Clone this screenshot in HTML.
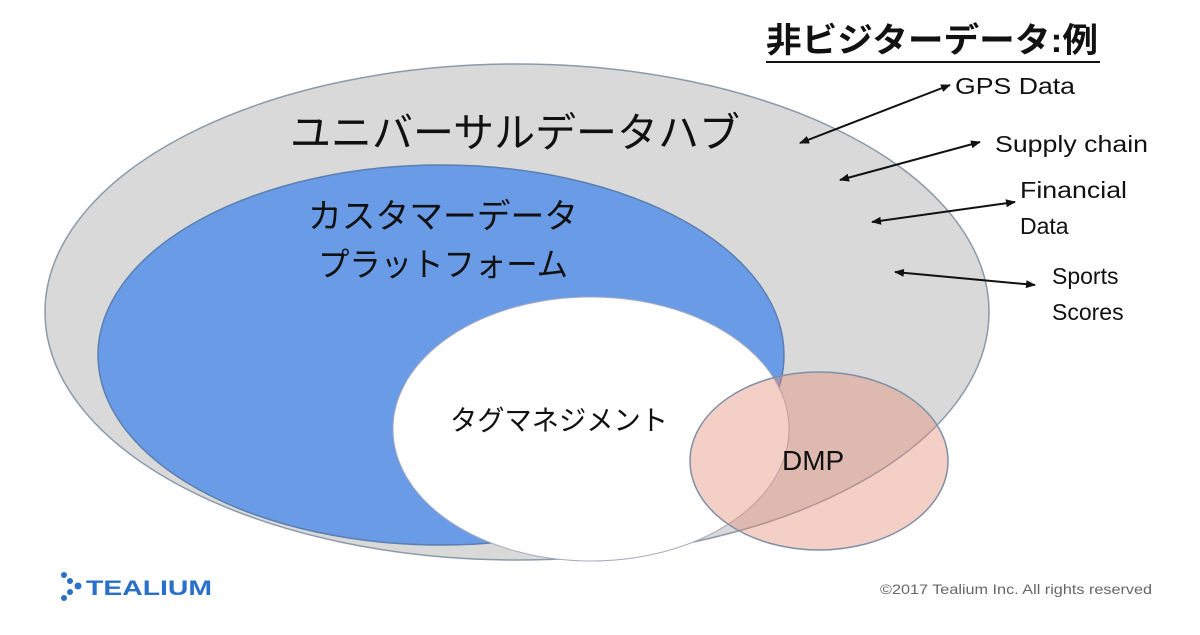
<!DOCTYPE html>
<html><head><meta charset="utf-8"><style>
body{margin:0;width:1200px;height:630px;background:#fff;overflow:hidden}
svg text{font-family:"Liberation Sans","Noto Sans CJK JP",sans-serif}
</style></head><body>
<svg width="1200" height="630" viewBox="0 0 1200 630">
<defs><marker id="a" markerWidth="10" markerHeight="8" refX="9" refY="4" orient="auto-start-reverse" markerUnits="userSpaceOnUse"><path d="M0,0 L10,4 L0,8 z" fill="#111"/></marker></defs>
<ellipse cx="517" cy="312" rx="472" ry="248" fill="#d9d9d9" stroke="#8a9aaa" stroke-width="1.5"/>
<ellipse cx="441" cy="355" rx="343" ry="190" fill="#6a9be6" stroke="#5a7fb0" stroke-width="1.5"/>
<ellipse cx="591" cy="429" rx="198" ry="132" fill="#fff" stroke="#aab" stroke-width="1"/>
<ellipse cx="819" cy="461" rx="129" ry="89" fill="rgba(228,140,120,0.42)" stroke="#7f8fa8" stroke-width="1.5"/>
<text x="290" y="147" font-size="41" fill="#111" textLength="450" lengthAdjust="spacingAndGlyphs">ユニバーサルデータハブ</text>
<text x="308" y="228" font-size="34" fill="#111" textLength="270" lengthAdjust="spacingAndGlyphs">カスタマーデータ</text>
<text x="318" y="276" font-size="33" fill="#111" textLength="250" lengthAdjust="spacingAndGlyphs">プラットフォーム</text>
<text x="450" y="430" font-size="28" fill="#111" textLength="218" lengthAdjust="spacingAndGlyphs">タグマネジメント</text>
<text x="782" y="470" font-size="28" fill="#111">DMP</text>
<text x="766" y="52" font-size="34" font-weight="bold" fill="#111" textLength="332" lengthAdjust="spacingAndGlyphs">非ビジターデータ:例</text>
<line x1="766" y1="62" x2="1100" y2="62" stroke="#111" stroke-width="2"/>
<g font-size="23" fill="#111">
<text x="955" y="94" textLength="120" lengthAdjust="spacingAndGlyphs">GPS Data</text>
<text x="995" y="152" textLength="153" lengthAdjust="spacingAndGlyphs">Supply chain</text>
<text x="1020" y="198" textLength="107" lengthAdjust="spacingAndGlyphs">Financial</text>
<text x="1020" y="234">Data</text>
<text x="1052" y="284">Sports</text>
<text x="1052" y="320">Scores</text>
</g>
<g stroke="#111" stroke-width="2" marker-start="url(#a)" marker-end="url(#a)">
<line x1="800" y1="143" x2="950" y2="85"/>
<line x1="840" y1="180" x2="980" y2="142"/>
<line x1="872" y1="222" x2="1015" y2="202"/>
<line x1="895" y1="272" x2="1035" y2="285"/>
</g>
<g fill="#2a6fc9"><circle cx="64" cy="575" r="3"/><circle cx="70" cy="581" r="3"/><circle cx="78" cy="586" r="3.5"/><circle cx="70" cy="592" r="3"/><circle cx="64" cy="598" r="3"/></g>
<text x="86" y="595" font-size="21" font-weight="bold" fill="#2a6fc9" textLength="126" lengthAdjust="spacingAndGlyphs">TEALIUM</text>
<text x="880" y="594" font-size="14" fill="#666" textLength="272" lengthAdjust="spacingAndGlyphs">©2017 Tealium Inc. All rights reserved</text>
</svg>
</body></html>
